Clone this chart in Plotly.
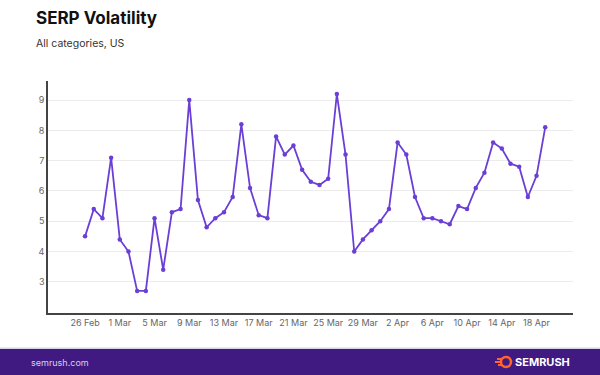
import pandas as pd
import plotly.graph_objects as go

start_date = "2024-02-26"
volatility = [4.5, 5.4, 5.1, 7.1, 4.4, 4.0, 2.7, 2.7, 5.1, 3.4, 5.3, 5.4, 9.0, 5.7, 4.8, 5.1, 5.3,
              5.8, 8.2, 6.1, 5.2, 5.1, 7.8, 7.2, 7.5, 6.7, 6.3, 6.2, 6.4, 9.2, 7.2, 4.0, 4.4, 4.7,
              5.0, 5.4, 7.6, 7.2, 5.8, 5.1, 5.1, 5.0, 4.9, 5.5, 5.4, 6.1, 6.6, 7.6, 7.4, 6.9, 6.8,
              5.8, 6.5, 8.1]
dates = pd.date_range(start_date, periods=len(volatility), freq="D")
x_tick_dates = ["2024-02-26", "2024-03-01", "2024-03-05", "2024-03-09", "2024-03-13",
                "2024-03-17", "2024-03-21", "2024-03-25", "2024-03-29", "2024-04-02",
                "2024-04-06", "2024-04-10", "2024-04-14", "2024-04-18"]
x_tick_labels = ["26 Feb", "1 Mar", "5 Mar", "9 Mar", "13 Mar", "17 Mar", "21 Mar",
                 "25 Mar", "29 Mar", "2 Apr", "6 Apr", "10 Apr", "14 Apr", "18 Apr"]
y_ticks = [3, 4, 5, 6, 7, 8, 9]

title = "SERP Volatility"
subtitle = "All categories, US"
footer_left = "semrush.com"
footer_brand = "SEMRUSH"

LINE = "#6b3fd6"
FOOT = "#401a80"

L, R, T, B = 48, 27, 81, 62
PW, PH = 600 - L - R, 375 - T - B


def px(x):
    return (x - L) / PW


def py(y):
    return (375 - B - y) / PH


fig = go.Figure()
fig.add_trace(go.Scatter(
    x=dates, y=volatility, mode="lines+markers",
    line=dict(color=LINE, width=1.8),
    marker=dict(color=LINE, size=4.5),
    hoverinfo="x+y", showlegend=False,
))

fig.update_layout(
    width=600, height=375,
    margin=dict(l=L, r=R, t=T, b=B),
    paper_bgcolor="white", plot_bgcolor="white",
    font=dict(family="Inter, Roboto, sans-serif", color="#555"),
    xaxis=dict(
        type="date",
        range=[pd.Timestamp("2024-02-26") - pd.Timedelta(hours=4.27 * 24),
               pd.Timestamp("2024-04-19") + pd.Timedelta(hours=3.2 * 24)],
        tickvals=x_tick_dates, ticktext=x_tick_labels,
        showgrid=False, showline=True, linecolor="#444", linewidth=1.5,
        ticks="", tickfont=dict(size=9, color="#666"), zeroline=False,
    ),
    yaxis=dict(
        range=[1.97, 9.63], tickvals=y_ticks,
        showgrid=True, gridcolor="#ececec", gridwidth=1,
        showline=True, linecolor="#444", linewidth=1.5,
        ticks="", tickfont=dict(size=9, color="#666"), zeroline=False,
    ),
)

# Title & subtitle
fig.add_annotation(text=f"<b>{title}</b>", xref="paper", yref="paper",
                   x=px(34), y=py(18), xanchor="left", yanchor="middle",
                   showarrow=False, font=dict(size=17, color="#111", family="Inter, sans-serif"))
fig.add_annotation(text=subtitle, xref="paper", yref="paper",
                   x=px(34), y=py(43), xanchor="left", yanchor="middle",
                   showarrow=False, font=dict(size=10.5, color="#333", family="Inter, sans-serif"))

# Footer band
fig.add_shape(type="rect", xref="paper", yref="paper",
              x0=px(0), x1=px(600), y0=py(375), y1=py(347.5),
              fillcolor="#d8d2e6", line=dict(width=0), layer="below")
fig.add_shape(type="rect", xref="paper", yref="paper",
              x0=px(0), x1=px(600), y0=py(375), y1=py(349),
              fillcolor=FOOT, line=dict(width=0), layer="above")
fig.add_annotation(text=footer_left, xref="paper", yref="paper",
                   x=px(29), y=py(362), xanchor="left", yanchor="middle",
                   showarrow=False, font=dict(size=9, color="#d9d0f0", family="Inter, sans-serif"))
fig.add_annotation(text=f"<b>{footer_brand}</b>", xref="paper", yref="paper",
                   x=px(513), y=py(362), xanchor="left", yanchor="middle",
                   showarrow=False, font=dict(size=11, color="white", family="Inter, sans-serif"))
# Logo mark (orange ring with flame strokes)
cx, cy = 506, 362
fig.add_shape(type="circle", xref="paper", yref="paper",
              x0=px(cx - 5), x1=px(cx + 5), y0=py(cy + 5), y1=py(cy - 5),
              line=dict(color="#ff642d", width=2.5), fillcolor=FOOT)
for dy, x0 in [(-3, 497), (0, 495), (3, 498)]:
    fig.add_shape(type="line", xref="paper", yref="paper",
                  x0=px(x0), x1=px(cx - 4), y0=py(cy + dy), y1=py(cy + dy),
                  line=dict(color="#ff642d", width=2))

fig.write_html("out.html", config={"displayModeBar": False},
               post_script="document.body.style.margin='0';")
